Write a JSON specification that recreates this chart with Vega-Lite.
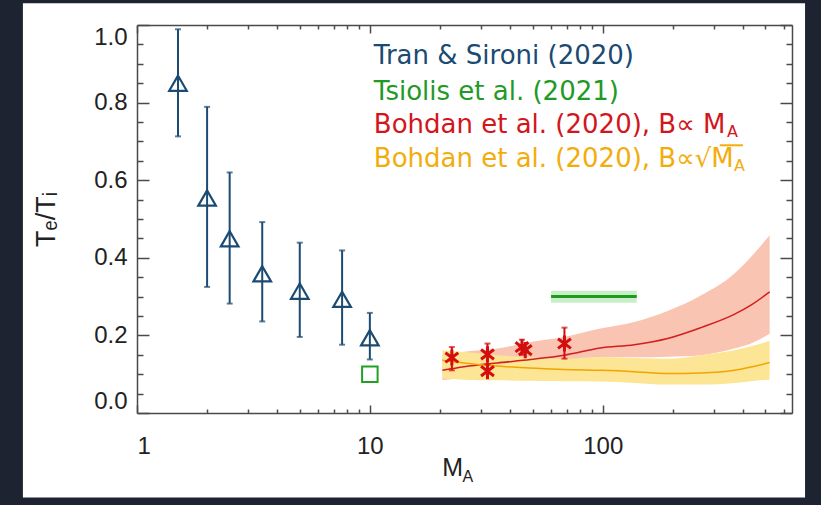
{
  "$schema": "https://vega.github.io/schema/vega-lite/v6.json",
  "width": 655,
  "height": 388,
  "autosize": "none",
  "padding": {"left": 137, "top": 25, "right": 29, "bottom": 92},
  "background": "#1d2331",
  "config": {
    "view": {"stroke": null},
    "axis": {"grid": false, "tickColor": "#4a4a4a", "tickWidth": 1.5, "domainColor": "#4a4a4a", "domainWidth": 1.5, "labelFont": "Liberation Sans", "labelFontSize": 24, "labelColor": "#222222"}
  },
  "datasets": {
    "tran": [
      {"M": 1.5, "T": 0.85, "lo": 0.713, "hi": 0.989},
      {"M": 2, "T": 0.554, "lo": 0.325, "hi": 0.789},
      {"M": 2.5, "T": 0.449, "lo": 0.282, "hi": 0.62},
      {"M": 3.45, "T": 0.359, "lo": 0.236, "hi": 0.492},
      {"M": 5, "T": 0.314, "lo": 0.196, "hi": 0.439},
      {"M": 7.6, "T": 0.293, "lo": 0.176, "hi": 0.419},
      {"M": 10, "T": 0.194, "lo": 0.138, "hi": 0.258}
    ],
    "tsiolisPt": [{"M": 10, "T": 0.1}],
    "tsiolisRange": [
      {"M": 60, "T": 0.3, "lo": 0.284, "hi": 0.315},
      {"M": 140, "T": 0.3, "lo": 0.284, "hi": 0.315}
    ],
    "bohdanPts": [
      {"M": 22.5, "T": 0.143, "lo": 0.11, "hi": 0.17},
      {"M": 32, "T": 0.151, "lo": 0.125, "hi": 0.179},
      {"M": 32, "T": 0.108},
      {"M": 45, "T": 0.17, "lo": 0.15, "hi": 0.189},
      {"M": 46.5, "T": 0.162},
      {"M": 68.5, "T": 0.179, "lo": 0.14, "hi": 0.22}
    ],
    "curves": [
      {"M": 20.5, "red": 0.11, "redLo": 0.085, "redHi": 0.15, "yel": 0.136, "yelLo": 0.0887, "yelHi": 0.162},
      {"M": 25.4, "red": 0.119, "redLo": 0.09, "redHi": 0.158, "yel": 0.129, "yelLo": 0.086, "yelHi": 0.157},
      {"M": 35.3, "red": 0.129, "redLo": 0.1, "redHi": 0.166, "yel": 0.121, "yelLo": 0.0843, "yelHi": 0.149},
      {"M": 49, "red": 0.138, "redLo": 0.113, "redHi": 0.183, "yel": 0.116, "yelLo": 0.083, "yelHi": 0.144},
      {"M": 68.3, "red": 0.149, "redLo": 0.127, "redHi": 0.196, "yel": 0.112, "yelLo": 0.0817, "yelHi": 0.14},
      {"M": 97.7, "red": 0.1675, "redLo": 0.1445, "redHi": 0.2175, "yel": 0.11, "yelLo": 0.081, "yelHi": 0.1445},
      {"M": 136.6, "red": 0.176, "redLo": 0.1435, "redHi": 0.2345, "yel": 0.1066, "yelLo": 0.0773, "yelHi": 0.1417},
      {"M": 190, "red": 0.192, "redLo": 0.145, "redHi": 0.263, "yel": 0.1015, "yelLo": 0.0732, "yelHi": 0.14},
      {"M": 264, "red": 0.22, "redLo": 0.149, "redHi": 0.303, "yel": 0.103, "yelLo": 0.0732, "yelHi": 0.149},
      {"M": 367, "red": 0.254, "redLo": 0.166, "redHi": 0.359, "yel": 0.11, "yelLo": 0.0773, "yelHi": 0.1616},
      {"M": 433, "red": 0.278, "redLo": 0.179, "redHi": 0.402, "yel": 0.1186, "yelLo": 0.082, "yelHi": 0.172},
      {"M": 521, "red": 0.312, "redLo": 0.2045, "redHi": 0.458, "yel": 0.13, "yelLo": 0.086, "yelHi": 0.1856}
    ]
  },
  "layer": [
    {
      "data": {"values": [{}]},
      "mark": {"type": "rect", "color": "white"},
      "encoding": {
        "x": {"datum": 0.3236, "type": "quantitative",
          "scale": {"type": "log", "domain": [1, 650], "nice": false},
          "axis": {"orient": "bottom", "zindex": 2, "values": [1, 10, 100], "format": "d", "tickSize": -8, "labelPadding": 29, "domain": true, "title": null}},
        "x2": {"datum": 739.5},
        "y": {"datum": 1.056, "type": "quantitative",
          "scale": {"domain": [0, 1], "nice": false, "zero": false},
          "axis": {"orient": "left", "zindex": 2, "values": [0, 0.2, 0.4, 0.6, 0.8, 1], "format": ".1f", "tickSize": -12, "labelPadding": 22, "labelFlush": true, "domain": true,
            "title": "Tₑ/Tᵢ", "titleFont": "Liberation Sans", "titleFontSize": 27, "titleFontWeight": "normal", "titleColor": "#222222", "titlePadding": 33}},
        "y2": {"datum": -0.218}
      }
    },
    {
      "data": {"name": "tsiolisRange"},
      "mark": {"type": "area", "color": "#c9efc9"},
      "encoding": {
        "x": {"field": "M", "type": "quantitative",
          "scale": {"type": "log", "domain": [1, 650], "nice": false},
          "axis": {"orient": "bottom", "zindex": 2, "values": [2, 3, 4, 5, 6, 7, 8, 9, 20, 30, 40, 50, 60, 70, 80, 90, 200, 300, 400, 500, 600], "labels": false, "tickSize": -4, "domain": false, "title": null}},
        "y": {"field": "lo", "type": "quantitative",
          "scale": {"domain": [0, 1], "nice": false, "zero": false},
          "axis": {"orient": "left", "zindex": 2, "values": [0.05, 0.1, 0.15, 0.25, 0.3, 0.35, 0.45, 0.5, 0.55, 0.65, 0.7, 0.75, 0.85, 0.9, 0.95], "labels": false, "tickSize": -6, "domain": false, "title": null}},
        "y2": {"field": "hi"}
      }
    },
    {
      "data": {"name": "curves"},
      "mark": {"type": "area", "color": "#f9c4b1", "interpolate": "monotone"},
      "encoding": {
        "x": {"field": "M", "type": "quantitative",
          "scale": {"type": "log", "domain": [1, 650], "nice": false},
          "axis": {"orient": "top", "zindex": 2, "values": [1, 10, 100], "labels": false, "tickSize": -8, "domain": true, "title": null}},
        "y": {"field": "redLo", "type": "quantitative",
          "scale": {"domain": [0, 1], "nice": false, "zero": false},
          "axis": {"orient": "right", "zindex": 2, "values": [0, 0.2, 0.4, 0.6, 0.8, 1], "labels": false, "tickSize": -12, "domain": true, "title": null}},
        "y2": {"field": "redHi"}
      }
    },
    {
      "data": {"name": "curves"},
      "mark": {"type": "area", "color": "#fde596", "interpolate": "monotone"},
      "encoding": {
        "x": {"field": "M", "type": "quantitative",
          "scale": {"type": "log", "domain": [1, 650], "nice": false},
          "axis": {"orient": "top", "zindex": 2, "values": [2, 3, 4, 5, 6, 7, 8, 9, 20, 30, 40, 50, 60, 70, 80, 90, 200, 300, 400, 500, 600], "labels": false, "tickSize": -4, "domain": false, "title": null}},
        "y": {"field": "yelLo", "type": "quantitative",
          "scale": {"domain": [0, 1], "nice": false, "zero": false},
          "axis": {"orient": "right", "zindex": 2, "values": [0.05, 0.1, 0.15, 0.25, 0.3, 0.35, 0.45, 0.5, 0.55, 0.65, 0.7, 0.75, 0.85, 0.9, 0.95], "labels": false, "tickSize": -6, "domain": false, "title": null}},
        "y2": {"field": "yelHi"}
      }
    },
    {
      "data": {"name": "tsiolisRange"},
      "mark": {"type": "line", "color": "#1e9a1e", "strokeWidth": 3},
      "encoding": {
        "x": {"field": "M", "type": "quantitative", "axis": null},
        "y": {"field": "T", "type": "quantitative", "axis": null}
      }
    },
    {
      "data": {"name": "curves"},
      "mark": {"type": "line", "color": "#d11f1f", "strokeWidth": 1.5, "interpolate": "monotone"},
      "encoding": {
        "x": {"field": "M", "type": "quantitative", "axis": null},
        "y": {"field": "red", "type": "quantitative", "axis": null}
      }
    },
    {
      "data": {"name": "curves"},
      "mark": {"type": "line", "color": "#f0a500", "strokeWidth": 1.5, "interpolate": "monotone"},
      "encoding": {
        "x": {"field": "M", "type": "quantitative", "axis": null},
        "y": {"field": "yel", "type": "quantitative", "axis": null}
      }
    },
    {
      "data": {"name": "tran"},
      "mark": {"type": "errorbar", "color": "#1b4a72", "thickness": 2, "ticks": {"size": 6, "thickness": 2}},
      "encoding": {
        "x": {"field": "M", "type": "quantitative", "axis": null},
        "y": {"field": "lo", "type": "quantitative", "axis": null},
        "y2": {"field": "hi"}
      }
    },
    {
      "data": {"name": "tran"},
      "mark": {"type": "point", "shape": "triangle-up", "size": 310, "filled": false, "color": "#1b4a72", "strokeWidth": 2.2, "opacity": 1},
      "encoding": {
        "x": {"field": "M", "type": "quantitative", "axis": null},
        "y": {"field": "T", "type": "quantitative", "axis": null}
      }
    },
    {
      "data": {"name": "tsiolisPt"},
      "mark": {"type": "point", "shape": "square", "size": 240, "filled": false, "color": "#22a022", "strokeWidth": 2, "opacity": 1},
      "encoding": {
        "x": {"field": "M", "type": "quantitative", "axis": null},
        "y": {"field": "T", "type": "quantitative", "axis": null}
      }
    },
    {
      "data": {"name": "bohdanPts"},
      "transform": [{"filter": "isValid(datum.lo)"}],
      "mark": {"type": "errorbar", "color": "#d40e0e", "thickness": 2, "ticks": {"size": 6, "thickness": 2}},
      "encoding": {
        "x": {"field": "M", "type": "quantitative", "axis": null},
        "y": {"field": "lo", "type": "quantitative", "axis": null},
        "y2": {"field": "hi"}
      }
    },
    {
      "data": {"name": "bohdanPts"},
      "mark": {"type": "point", "shape": "M0,-1L0,1M-0.8,-0.6L0.8,0.6M-0.8,0.6L0.8,-0.6", "size": 260, "filled": false, "color": "#d40e0e", "strokeWidth": 3, "opacity": 1},
      "encoding": {
        "x": {"field": "M", "type": "quantitative", "axis": null},
        "y": {"field": "T", "type": "quantitative", "axis": null}
      }
    },
    {
      "data": {"values": [{}]},
      "mark": {"type": "text", "text": "Tran & Sironi (2020)", "align": "left", "baseline": "alphabetic", "font": "DejaVu Sans", "fontSize": 26, "color": "#1b4a72"},
      "encoding": {"x": {"datum": 10.4, "type": "quantitative", "axis": null}, "y": {"datum": 0.9005, "type": "quantitative", "axis": null}}
    },
    {
      "data": {"values": [{}]},
      "mark": {"type": "text", "text": "Tsiolis et al. (2021)", "align": "left", "baseline": "alphabetic", "font": "DejaVu Sans", "fontSize": 26, "color": "#1f9a25"},
      "encoding": {"x": {"datum": 10.4, "type": "quantitative", "axis": null}, "y": {"datum": 0.8077, "type": "quantitative", "axis": null}}
    },
    {
      "data": {"values": [{}]},
      "mark": {"type": "text", "text": "Bohdan et al. (2020), B∝ M", "align": "left", "baseline": "alphabetic", "font": "DejaVu Sans", "fontSize": 26, "color": "#d2161c"},
      "encoding": {"x": {"datum": 10.4, "type": "quantitative", "axis": null}, "y": {"datum": 0.7216, "type": "quantitative", "axis": null}}
    },
    {
      "data": {"values": [{}]},
      "mark": {"type": "text", "text": "A", "align": "left", "baseline": "alphabetic", "font": "DejaVu Sans", "fontSize": 16, "color": "#d2161c"},
      "encoding": {"x": {"datum": 341.7, "type": "quantitative", "axis": null}, "y": {"datum": 0.7106, "type": "quantitative", "axis": null}}
    },
    {
      "data": {"values": [{}]},
      "mark": {"type": "text", "text": "Bohdan et al. (2020), B∝√M", "align": "left", "baseline": "alphabetic", "font": "DejaVu Sans", "fontSize": 26, "color": "#f2ad0d"},
      "encoding": {"x": {"datum": 10.4, "type": "quantitative", "axis": null}, "y": {"datum": 0.634, "type": "quantitative", "axis": null}}
    },
    {
      "data": {"values": [{}]},
      "mark": {"type": "text", "text": "A", "align": "left", "baseline": "alphabetic", "font": "DejaVu Sans", "fontSize": 16, "color": "#f2ad0d"},
      "encoding": {"x": {"datum": 366.1, "type": "quantitative", "axis": null}, "y": {"datum": 0.623, "type": "quantitative", "axis": null}}
    },
    {
      "data": {"values": [{}]},
      "mark": {"type": "rule", "color": "#f2ad0d", "strokeWidth": 2},
      "encoding": {"x": {"datum": 318, "type": "quantitative", "axis": null}, "x2": {"datum": 400}, "y": {"datum": 0.69, "type": "quantitative", "axis": null}}
    },
    {
      "data": {"values": [{}]},
      "mark": {"type": "text", "text": "M", "align": "center", "baseline": "alphabetic", "font": "Liberation Sans", "fontSize": 25, "color": "#222222"},
      "encoding": {"x": {"datum": 22.7, "type": "quantitative", "axis": null}, "y": {"datum": -0.163, "type": "quantitative", "axis": null}}
    },
    {
      "data": {"values": [{}]},
      "mark": {"type": "text", "text": "A", "align": "left", "baseline": "alphabetic", "font": "Liberation Sans", "fontSize": 16, "color": "#222222"},
      "encoding": {"x": {"datum": 25.0, "type": "quantitative", "axis": null}, "y": {"datum": -0.178, "type": "quantitative", "axis": null}}
    }
  ],
  "resolve": {"axis": {"x": "independent", "y": "independent"}}
}
